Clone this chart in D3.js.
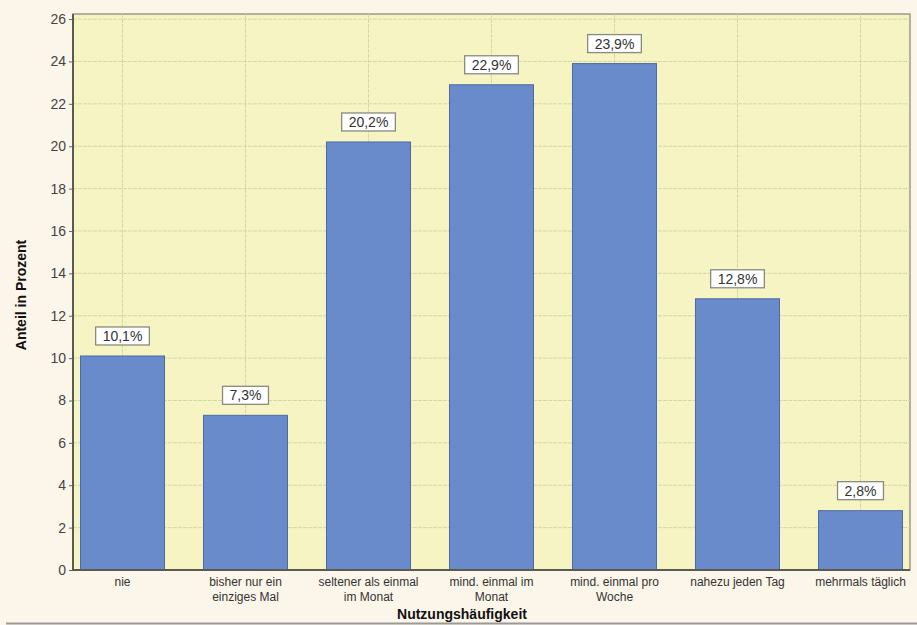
<!DOCTYPE html>
<meta charset="utf-8">
<html>
<head><title>Nutzungshäufigkeit</title>
    <script src="https://cdn.jsdelivr.net/npm/d3@7"></script>
    <style>
        body { margin: 0; background: #fcf6ea; }
        text { font-family: "Liberation Sans", Arial, sans-serif; }
        .grid line { stroke: #d3d8a6; stroke-dasharray: 4,1; }
        .bar { fill: #6a8bcb; stroke: #4d6aa6; stroke-width: 1; }
        .lbl rect { fill: #ffffff; stroke: #8a8a80; stroke-width: 1.3; }
        .lbl text { fill: #333; font-size: 14px; }
    </style>
</head>
<body>
<div id="chart"></div>
<script>
    // data
    var categories = [
        ["nie"],
        ["bisher nur ein", "einziges Mal"],
        ["seltener als einmal", "im Monat"],
        ["mind. einmal im", "Monat"],
        ["mind. einmal pro", "Woche"],
        ["nahezu jeden Tag"],
        ["mehrmals täglich"]
    ];
    var values = [10.1, 7.3, 20.2, 22.9, 23.9, 12.8, 2.8];
    var valueLabels = ["10,1%", "7,3%", "20,2%", "22,9%", "23,9%", "12,8%", "2,8%"];
    var yTicks = [0, 2, 4, 6, 8, 10, 12, 14, 16, 18, 20, 22, 24, 26];

    var W = 917, H = 625;
    // plot box (window.top is reserved, so p-prefixed names)
    var pLeft = 73, pRight = 910, pTop = 14, pBottom = 570;

    var svg = d3.select("#chart").append("svg")
            .attr("width", W)
            .attr("height", H);

    svg.append("rect").attr("width", W).attr("height", H).attr("fill", "#fcf6ea");

    var x = d3.scaleBand()
            .domain(d3.range(categories.length))
            .range([pLeft, pRight])
            .paddingInner(0.317)
            .paddingOuter(0.061);

    var y = d3.scaleLinear()
            .domain([0, 26.24])
            .range([pBottom, pTop]);

    // plot background
    svg.append("rect")
            .attr("x", pLeft).attr("y", pTop)
            .attr("width", pRight - pLeft).attr("height", pBottom - pTop)
            .attr("fill", "#f6f4c2")
            .attr("stroke", "#9a9a88")
            .attr("stroke-width", 1.5);

    // grid
    var grid = svg.append("g").attr("class", "grid");
    grid.selectAll(".h").data(yTicks.slice(1)).enter()
            .append("line")
            .attr("x1", pLeft).attr("x2", pRight)
            .attr("y1", function(d) { return y(d); })
            .attr("y2", function(d) { return y(d); });
    grid.selectAll(".v").data(d3.range(categories.length)).enter()
            .append("line")
            .attr("x1", function(d) { return x(d) + x.bandwidth() / 2; })
            .attr("x2", function(d) { return x(d) + x.bandwidth() / 2; })
            .attr("y1", pTop).attr("y2", pBottom);

    // bars
    svg.selectAll(".bar").data(values).enter()
            .append("rect")
            .attr("class", "bar")
            .attr("x", function(d, i) { return x(i); })
            .attr("y", function(d) { return y(d); })
            .attr("width", x.bandwidth())
            .attr("height", function(d) { return pBottom - y(d); });

    // value labels
    var lbl = svg.selectAll(".lbl").data(values).enter()
            .append("g")
            .attr("class", "lbl")
            .attr("transform", function(d, i) {
                return "translate(" + (x(i) + x.bandwidth() / 2) + "," + (y(d) - 20) + ")";
            });
    lbl.append("text")
            .attr("text-anchor", "middle")
            .attr("dy", "0.36em")
            .text(function(d, i) { return valueLabels[i]; });
    lbl.each(function() {
        var g = d3.select(this);
        var bb = g.select("text").node().getBBox();
        g.insert("rect", "text")
                .attr("x", bb.x - 7).attr("y", -9)
                .attr("width", bb.width + 14).attr("height", 18);
    });

    // y axis
    var yAxis = svg.append("g")
            .attr("transform", "translate(" + pLeft + ",0)")
            .call(d3.axisLeft(y).tickValues(yTicks).tickSize(4).tickPadding(3));
    yAxis.select(".domain").remove();
    yAxis.selectAll("line").attr("stroke", "#666");
    yAxis.selectAll("text").attr("font-size", "14px").attr("fill", "#444")
            .attr("font-family", "Liberation Sans, Arial, sans-serif");
    svg.append("line")
            .attr("x1", pLeft).attr("x2", pLeft)
            .attr("y1", pTop).attr("y2", pBottom + 1)
            .attr("stroke", "#5a5a50").attr("stroke-width", 2);

    // x axis
    svg.append("line")
            .attr("x1", pLeft).attr("x2", pRight)
            .attr("y1", pBottom).attr("y2", pBottom)
            .attr("stroke", "#5a5a50").attr("stroke-width", 2);
    var xl = svg.selectAll(".xl").data(categories).enter()
            .append("text")
            .attr("text-anchor", "middle")
            .attr("font-size", "12px")
            .attr("fill", "#333")
            .attr("x", function(d, i) { return x(i) + x.bandwidth() / 2; })
            .attr("y", pBottom + 16);
    xl.selectAll("tspan").data(function(d) { return d; }).enter()
            .append("tspan")
            .attr("x", function() { return d3.select(this.parentNode).attr("x"); })
            .attr("dy", function(d, j) { return j ? 15 : 0; })
            .text(function(d) { return d; });

    // axis titles
    svg.append("text")
            .attr("x", 462).attr("y", 619)
            .attr("text-anchor", "middle")
            .attr("font-size", "14px").attr("font-weight", "bold").attr("fill", "#111")
            .text("Nutzungshäufigkeit");
    svg.append("text")
            .attr("transform", "translate(26,295) rotate(-90)")
            .attr("text-anchor", "middle")
            .attr("font-size", "14px").attr("font-weight", "bold").attr("fill", "#111")
            .text("Anteil in Prozent");

    // bottom rule
    svg.append("line")
            .attr("x1", 6).attr("x2", W)
            .attr("y1", 623.5).attr("y2", 623.5)
            .attr("stroke", "#999").attr("stroke-width", 2);
</script>
</body>
</html>
